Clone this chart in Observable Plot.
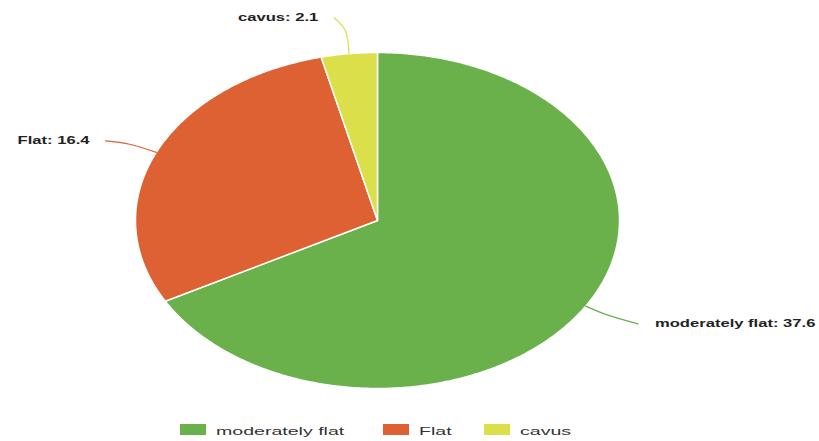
<!DOCTYPE html>
<html>
<head>
<meta charset="utf-8">
<script src="https://cdn.jsdelivr.net/npm/d3@7"></script>
<script src="https://cdn.jsdelivr.net/npm/@observablehq/plot@0.6"></script>
<style>
  body { margin: 0; background: #fff; font-family: "Liberation Sans", Arial, sans-serif; position: relative; width: 819px; height: 441px; overflow: hidden; }
  #chart svg { display: block; }
  .sw { position: absolute; width: 26px; height: 11px; top: 424px; }
  .lt { position: absolute; top: 424px; font-size: 11.5px; line-height: 14px; color: #333; white-space: nowrap; transform: scaleX(1.7); transform-origin: left center; }
</style>
</head>
<body>
<div id="chart"></div>
<div id="legend"></div>
<script>
const categories = ["moderately flat", "Flat", "cavus"];
const values = [37.6, 16.4, 2.1];
const colors = ["#6ab04b", "#dd6133", "#dbe04a"];

const pie = d3.pie().sort(null).value(d => d.value)(categories.map((c, i) => ({ cat: c, value: values[i] })));

// slice polygons in unit-circle data space (angle measured clockwise from top)
const slices = [];
pie.forEach(p => {
  const n = Math.max(4, Math.ceil((p.endAngle - p.startAngle) / 0.01));
  slices.push({ cat: p.data.cat, x: 0, y: 0 });
  for (let k = 0; k <= n; k++) {
    const a = p.startAngle + (p.endAngle - p.startAngle) * k / n;
    slices.push({ cat: p.data.cat, x: Math.sin(a), y: Math.cos(a) });
  }
  slices.push({ cat: p.data.cat, x: 0, y: 0 });
});

// leader lines
const leaderSpec = { "moderately flat": { r1: 1.1, h: 0.13, v: -0.055 }, "Flat": { r1: 1.12, h: -0.1, v: 0.02 }, "cavus": { r1: 1.14, h: -0.045, v: 0.075 } };
const leaders = [];
const labels = [];
pie.forEach(p => {
  const a = (p.startAngle + p.endAngle) / 2;
  const s = leaderSpec[p.data.cat];
  const x0 = Math.sin(a), y0 = Math.cos(a);
  const x1 = x0 * s.r1, y1 = y0 * s.r1;
  const x2 = x1 + s.h, y2 = y1 + s.v;
  leaders.push({ cat: p.data.cat, x: x0, y: y0 }, { cat: p.data.cat, x: x1, y: y1 }, { cat: p.data.cat, x: x2, y: y2 });
  labels.push({ cat: p.data.cat, x: x2, y: y2, text: `${p.data.cat}: ${p.data.value}`, right: s.h > 0 });
});

const color = { domain: categories, range: colors };

const chart = Plot.plot({
  width: 819,
  height: 414,
  marginLeft: 135,
  marginRight: 200,
  marginTop: 52,
  marginBottom: 26,
  x: { domain: [-1, 1], axis: null },
  y: { domain: [-1, 1], axis: null },
  color,
  style: { fontFamily: "'Liberation Sans', Arial, sans-serif", background: "#fff" },
  marks: [
    Plot.line(slices, { x: "x", y: "y", z: "cat", fill: "cat", stroke: "#fff", strokeWidth: 1.5, strokeLinejoin: "round" }),
    Plot.line(leaders, { x: "x", y: "y", z: "cat", stroke: "cat", strokeWidth: 1.2, curve: "catmull-rom" }),
    Plot.text(labels.filter(d => d.right), { x: "x", y: "y", text: "text", textAnchor: "start", dx: 17, fontSize: 10.5, fontWeight: "bold", fill: "#222" }),
    Plot.text(labels.filter(d => !d.right), { x: "x", y: "y", text: "text", textAnchor: "end", dx: -16, fontSize: 10.5, fontWeight: "bold", fill: "#222" })
  ]
});
document.getElementById("chart").appendChild(chart);
// widen the label glyphs horizontally (the reference is horizontally stretched)
d3.select(chart).selectAll("text").each(function () {
  const w = this.getComputedTextLength();
  this.setAttribute("textLength", (w * 1.58).toFixed(1));
  this.setAttribute("lengthAdjust", "spacingAndGlyphs");
});

const legend = document.getElementById("legend");
const swatchLeft = [180, 383, 484];
categories.forEach((c, i) => {
  const sw = document.createElement("div");
  sw.className = "sw";
  sw.style.left = swatchLeft[i] + "px";
  sw.style.background = colors[i];
  legend.appendChild(sw);
  const lt = document.createElement("div");
  lt.className = "lt";
  lt.style.left = (swatchLeft[i] + 36) + "px";
  lt.textContent = c;
  legend.appendChild(lt);
});
</script>
</body>
</html>
